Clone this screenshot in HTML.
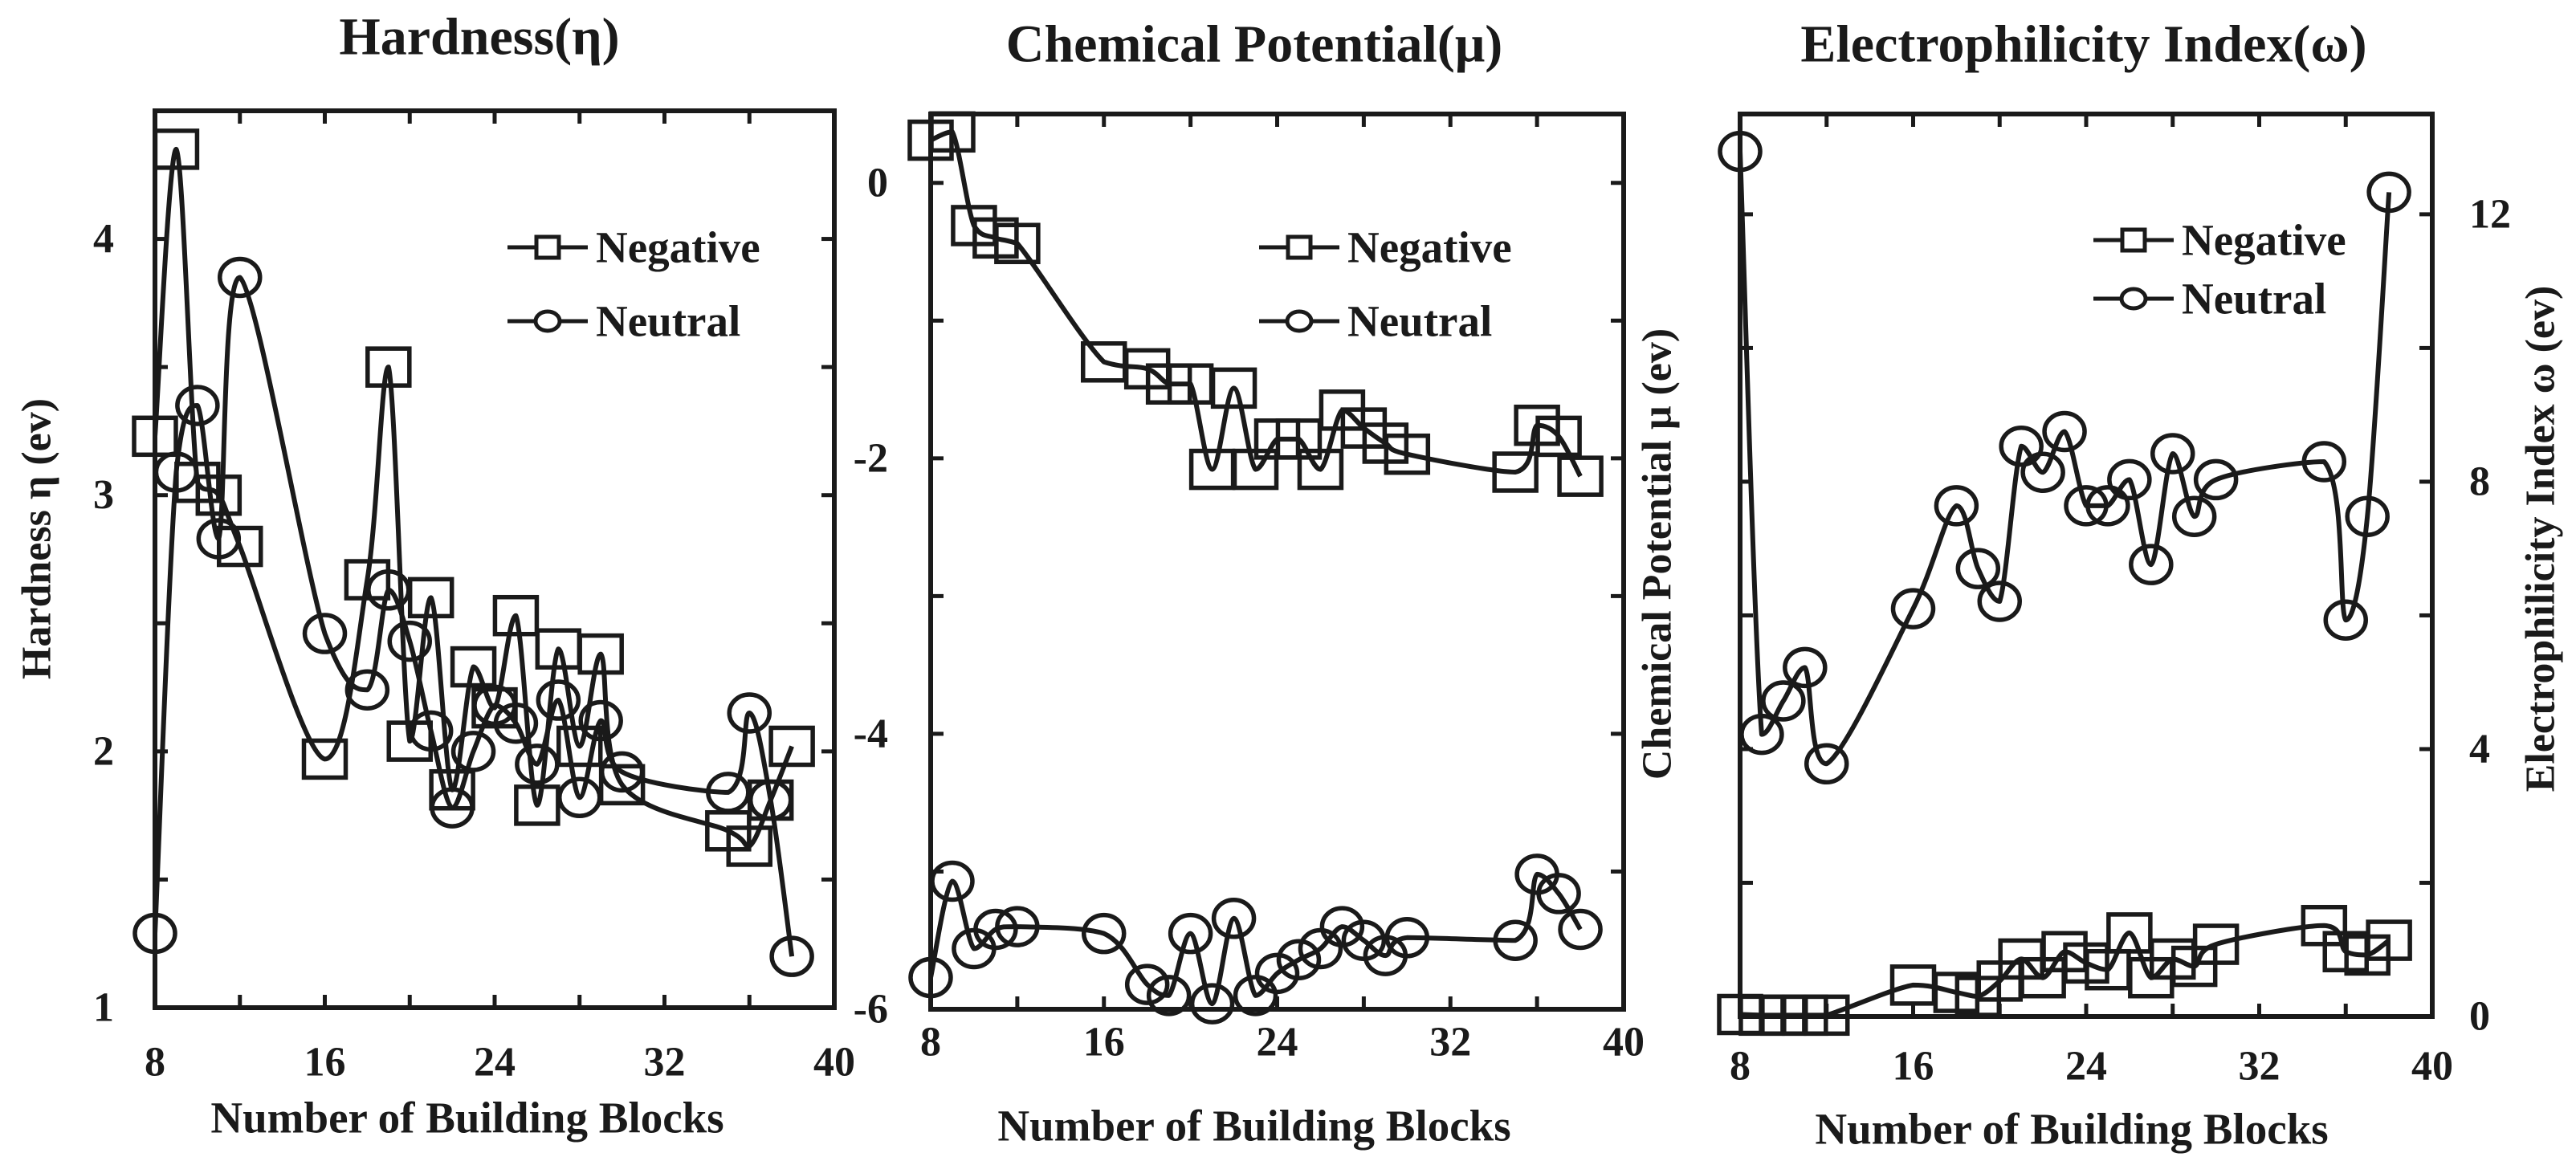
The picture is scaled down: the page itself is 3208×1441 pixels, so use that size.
<!DOCTYPE html>
<html><head><meta charset="utf-8"><style>
html,body{margin:0;padding:0;background:#fff;}
svg{display:block;}
text{font-family:"Liberation Serif",serif;font-weight:bold;fill:#1a1a1a;}
</style></head><body>
<svg id="chart" width="3208" height="1441" viewBox="0 0 3208 1441" xmlns="http://www.w3.org/2000/svg"></svg>
<script>
const xBlocks = [8,9,10,11,12,16,18,19,20,21,22,23,24,25,26,27,28,29,30,35,36,37,38];
const hardNeg = [3.23,4.35,3.05,3.0,2.8,1.97,2.67,3.5,2.04,2.6,1.85,2.33,2.17,2.53,1.79,2.4,2.02,2.38,1.87,1.69,1.63,1.81,2.02];
const hardNeu = [1.29,3.09,3.35,2.83,3.85,2.46,2.24,2.63,2.43,2.08,1.78,2.0,2.18,2.11,1.95,2.2,1.82,2.12,1.92,1.84,2.15,1.81,1.2];
const chemNeg = [0.31,0.37,-0.31,-0.4,-0.44,-1.3,-1.35,-1.46,-1.46,-2.08,-1.49,-2.08,-1.86,-1.86,-2.08,-1.65,-1.78,-1.89,-1.97,-2.1,-1.76,-1.84,-2.13];
const chemNeu = [-5.77,-5.07,-5.56,-5.42,-5.4,-5.45,-5.82,-5.9,-5.45,-5.96,-5.34,-5.9,-5.74,-5.64,-5.56,-5.4,-5.5,-5.61,-5.48,-5.5,-5.02,-5.16,-5.42];
const elecNeg = [0.03,0.02,0.02,0.02,0.02,0.47,0.36,0.3,0.53,0.86,0.58,0.97,0.8,0.7,1.25,0.58,0.86,0.75,1.08,1.36,0.97,0.92,1.14];
const elecNeu = [12.94,4.22,4.72,5.22,3.78,6.1,7.64,6.7,6.21,8.53,8.14,8.75,7.64,7.64,8.03,6.76,8.42,7.48,8.03,8.3,5.93,7.48,12.33];
const xTicks = [8,16,24,32,40];
const hardTicks = [1,2,3,4];
const chemTicks = [0,-2,-4,-6];
const elecTicks = [0,4,8,12];
const legendLabels = ["Negative","Neutral"];

const NS="http://www.w3.org/2000/svg";
const svg=document.getElementById('chart');
function mk(tag,attrs,parent){const e=document.createElementNS(NS,tag);for(const k in attrs)e.setAttribute(k,attrs[k]);(parent||svg).appendChild(e);return e;}

function smoothPath(pts){
  let d="M"+pts[0][0]+","+pts[0][1];
  const cl=(v,a,b)=>Math.max(Math.min(a,b),Math.min(Math.max(a,b),v));
  for(let i=0;i<pts.length-1;i++){
    const p0=pts[i-1]||pts[i],p1=pts[i],p2=pts[i+1],p3=pts[i+2]||p2;
    const t=1/6;
    const c1=[p1[0]+(p2[0]-p0[0])*t,cl(p1[1]+(p2[1]-p0[1])*t,p1[1],p2[1])];
    const c2=[p2[0]-(p3[0]-p1[0])*t,cl(p2[1]-(p3[1]-p1[1])*t,p1[1],p2[1])];
    d+=" C"+c1[0]+","+c1[1]+" "+c2[0]+","+c2[1]+" "+p2[0]+","+p2[1];
  }
  return d;
}

function panel(cfg){
  const g=mk('g',{});
  
  
  const sx=v=>cfg.L+(v-8)*(cfg.R-cfg.L)/32;
  const sy=v=>cfg.B-(v-cfg.ymin)*(cfg.B-cfg.T)/(cfg.ymax-cfg.ymin);
  for(let v=8;v<=40;v+=4){
    const x=sx(v);
    const t1=mk('line',{x1:x,y1:cfg.B,x2:x,y2:cfg.B-16,stroke:'#1a1a1a','stroke-width':5},g);
    
    
    const t2=mk('line',{x1:x,y1:cfg.T,x2:x,y2:cfg.T+16,stroke:'#1a1a1a','stroke-width':5},g);
    
    
  }
  for(let v=cfg.ymin;v<=cfg.ymax+1e-9;v+=cfg.ystep){
    const y=sy(v);
    const t1=mk('line',{x1:cfg.L,y1:y,x2:cfg.L+16,y2:y,stroke:'#1a1a1a','stroke-width':5},g);
    
    
    const t2=mk('line',{x1:cfg.R,y1:y,x2:cfg.R-16,y2:y,stroke:'#1a1a1a','stroke-width':5},g);
    
    
  }
  const box=mk('rect',{x:cfg.L,y:cfg.T,width:cfg.R-cfg.L,height:cfg.B-cfg.T,fill:'none',stroke:'#1a1a1a','stroke-width':6},g);
  
  
  xTicks.forEach(v=>{
    const t=mk('text',{x:sx(v),y:cfg.xly,'font-size':52,'text-anchor':'middle','dominant-baseline':'central'},g);
    t.textContent=v;
    
    
  });
  cfg.yticks.forEach(v=>{
    const t=mk('text',{x:cfg.ylx,y:sy(v),'font-size':52,'text-anchor':cfg.ylAnchor,'dominant-baseline':'central'},g);
    t.textContent=v<0?('-'+Math.abs(v)):v;
    
    
  });
  const ti=mk('text',{x:cfg.tx,y:cfg.ty,'font-size':66,'text-anchor':'middle','dominant-baseline':'central'},g);
  ti.textContent=cfg.title;
  
  
  const xl=mk('text',{x:cfg.axx,y:cfg.axy,'font-size':55,'text-anchor':'middle','dominant-baseline':'central'},g);
  xl.textContent='Number of Building Blocks';
  
  
  const yl=mk('text',{x:0,y:0,'font-size':52,'text-anchor':'middle','dominant-baseline':'central',transform:'translate('+cfg.ytx+','+cfg.yty+') rotate(-90)'},g);
  yl.textContent=cfg.ytitle;
  
  
  const series=[[cfg.neg,'square','negative'],[cfg.neu,'circle','neutral']];
  series.forEach(([vals,shape,nm])=>{
    const pts=xBlocks.map((x,i)=>[sx(x),sy(vals[i])]);
    const p=mk('path',{d:smoothPath(pts),fill:'none',stroke:'#1a1a1a','stroke-width':6,'stroke-linejoin':'round'},g);
    
    
    pts.forEach(pt=>{
      let m;
      if(shape==='square') m=mk('rect',{x:pt[0]-26,y:pt[1]-23,width:52,height:46,fill:'none',stroke:'#1a1a1a','stroke-width':5.5},g);
      else m=mk('ellipse',{cx:pt[0],cy:pt[1],rx:25,ry:23,fill:'none',stroke:'#1a1a1a','stroke-width':5.5},g);
      
      
    });
  });
  legendLabels.forEach((lab,i)=>{
    const y=cfg.legY[i];
    const lg=mk('g',{},g);
    
    
    mk('line',{x1:cfg.legX,y1:y,x2:cfg.legX+100,y2:y,stroke:'#1a1a1a','stroke-width':5},lg);
    const cx=cfg.legX+50;
    if(i===0) mk('rect',{x:cx-14,y:y-13,width:28,height:26,fill:'#fff',stroke:'#1a1a1a','stroke-width':5},lg);
    else mk('ellipse',{cx:cx,cy:y,rx:15,ry:12,fill:'#fff',stroke:'#1a1a1a','stroke-width':5},lg);
    const t=mk('text',{x:cfg.legX+110,y:y,'font-size':55,'dominant-baseline':'central'},lg);
    t.textContent=lab;
  });
}

panel({name:'hardness-panel',L:193,R:1039,T:138,B:1255,ymin:1,ymax:4.5,ystep:0.5,yticks:hardTicks,
  ylx:142,ylAnchor:'end',xly:1323,title:'Hardness(η)',tx:597,ty:46,axx:582,axy:1392,
  ytitle:'Hardness η (ev)',ytx:46,yty:671,neg:hardNeg,neu:hardNeu,legX:632,legY:[308,400]});
panel({name:'chemical-potential-panel',L:1159,R:2022,T:142,B:1257,ymin:-6,ymax:0.5,ystep:1,yticks:chemTicks,
  ylx:1106,ylAnchor:'end',xly:1298,title:'Chemical Potential(μ)',tx:1562,ty:55,axx:1562,axy:1402,
  ytitle:'Chemical Potential μ (ev)',ytx:2064,yty:690,neg:chemNeg,neu:chemNeu,legX:1568,legY:[308,400]});
panel({name:'electrophilicity-panel',L:2167,R:3029,T:142,B:1266,ymin:0,ymax:13.5,ystep:2,yticks:elecTicks,
  ylx:3075,ylAnchor:'start',xly:1328,title:'Electrophilicity Index(ω)',tx:2595,ty:55,axx:2580,axy:1406,
  ytitle:'Electrophilicity Index ω (ev)',ytx:3164,yty:671,neg:elecNeg,neu:elecNeu,legX:2607,legY:[299,372]});
</script>
</body></html>
